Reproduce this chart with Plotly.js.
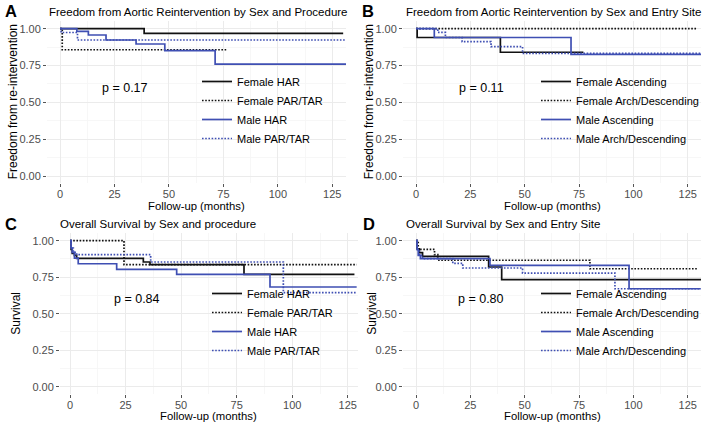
<!DOCTYPE html>
<html>
<head>
<meta charset="utf-8">
<script src="https://cdn.plot.ly/plotly-3.0.1.min.js"></script>
<style>html,body{margin:0;padding:0;background:#fff;}#chart{width:712px;height:425px;}</style>
</head>
<body>
<div id="chart"></div>
<script>
// ---------- DATA ----------
// Panel A: Freedom from Aortic Reintervention by Sex and Procedure
const A_femaleHAR_t = [0, 38.6, 130];
const A_femaleHAR_s = [1, 0.968, 0.968];
const A_femalePARTAR_t = [0, 1, 76.6];
const A_femalePARTAR_s = [1, 0.857, 0.857];
const A_maleHAR_t = [0, 7.7, 13, 21.1, 34.9, 48.1, 71.2, 131.3];
const A_maleHAR_s = [1, 0.982, 0.957, 0.923, 0.896, 0.851, 0.76, 0.76];
const A_malePARTAR_t = [0, 0.5, 8, 131];
const A_malePARTAR_s = [1, 0.974, 0.923, 0.923];

// Panel B: Freedom from Aortic Reintervention by Sex and Entry Site
const B_femaleAsc_t = [0, 0.5, 38.8, 77];
const B_femaleAsc_s = [1, 0.94, 0.84, 0.84];
const B_femaleArch_t = [0, 129];
const B_femaleArch_s = [1, 1];
const B_maleAsc_t = [0, 8.4, 71.3, 131.4];
const B_maleAsc_s = [1, 0.94, 0.826, 0.826];
const B_maleArch_t = [0, 10, 13.5, 21.2, 34.5, 49, 131];
const B_maleArch_s = [1, 0.975, 0.94, 0.912, 0.878, 0.833, 0.833];

// Panel C: Overall Survival by Sex and procedure
const C_femaleHAR_t = [0, 0.5, 1, 2, 3, 33, 36, 78.3, 128];
const C_femaleHAR_s = [1, 0.94, 0.913, 0.90, 0.879, 0.854, 0.836, 0.77, 0.77];
const C_femalePARTAR_t = [0, 24.3, 129];
const C_femalePARTAR_s = [1, 0.836, 0.836];
const C_maleHAR_t = [0, 0.5, 1, 2, 3.7, 21, 48, 90, 129];
const C_maleHAR_s = [1, 0.95, 0.92, 0.88, 0.842, 0.804, 0.77, 0.683, 0.683];
const C_malePARTAR_t = [0, 0.5, 1.5, 3, 36.3, 96, 129];
const C_malePARTAR_s = [1, 0.95, 0.92, 0.904, 0.854, 0.644, 0.644];

// Panel D: Overall Survival by Sex and Entry Site
const D_femaleAsc_t = [0, 0.5, 1.5, 3, 33.4, 39.4, 132];
const D_femaleAsc_s = [1, 0.945, 0.918, 0.893, 0.82, 0.733, 0.733];
const D_femaleArch_t = [0, 1, 8.5, 10, 80, 129.7];
const D_femaleArch_s = [1, 0.94, 0.904, 0.866, 0.808, 0.808];
const D_maleAsc_t = [0, 0.5, 1, 2, 34, 98, 131];
const D_maleAsc_s = [1, 0.94, 0.9, 0.877, 0.831, 0.671, 0.671];
const D_maleArch_t = [0, 0.5, 1.5, 3, 16.9, 21.5, 49, 91.5, 131];
const D_maleArch_s = [1, 0.94, 0.9, 0.877, 0.845, 0.813, 0.778, 0.671, 0.671];

const xTicks = [0, 25, 50, 75, 100, 125];
const yTicks = [0, 0.25, 0.5, 0.75, 1];
const yTickText = ['0.00', '0.25', '0.50', '0.75', '1.00'];

const namesProc = ['Female HAR', 'Female PAR/TAR', 'Male HAR', 'Male PAR/TAR'];
const namesSite = ['Female Ascending', 'Female Arch/Descending', 'Male Ascending', 'Male Arch/Descending'];
const panelTitles = [
  'Freedom from Aortic Reintervention by Sex and Procedure',
  'Freedom from Aortic Reintervention by Sex and Entry Site',
  'Overall Survival by Sex and procedure',
  'Overall Survival by Sex and Entry Site'
];
const panelLetters = ['A', 'B', 'C', 'D'];
const pValues = ['p = 0.17', 'p = 0.11', 'p = 0.84', 'p = 0.80'];
const yTitles = ['Freedom from re-intervention', 'Freedom from re-intervention', 'Survival', 'Survival'];
const xTitle = 'Follow-up (months)';

// ---------- STYLE / LAYOUT ----------
const W = 712, H = 425;
const BLACK = '#111111', BLUE = '#3F4FB3';
const DOT = '1.6px,1.6px';
const styles = [
  {color: BLACK, dash: 'solid'},
  {color: BLACK, dash: DOT},
  {color: BLUE, dash: 'solid'},
  {color: BLUE, dash: DOT}
];
const FONT = 'Liberation Sans, Arial, sans-serif';

const panels = [
  {sets: [[A_femaleHAR_t, A_femaleHAR_s], [A_femalePARTAR_t, A_femalePARTAR_s], [A_maleHAR_t, A_maleHAR_s], [A_malePARTAR_t, A_malePARTAR_s]], names: namesProc,
   px: [47, 346], py: [21.3, 183.4], range: [-6.0, 131.3], leg: [197, 110], title: [47, 11.7], letter: [3, 11], ytl: 13, xtl: 205.5},
  {sets: [[B_femaleAsc_t, B_femaleAsc_s], [B_femaleArch_t, B_femaleArch_s], [B_maleAsc_t, B_maleAsc_s], [B_maleArch_t, B_maleArch_s]], names: namesSite,
   px: [403, 701], py: [21.3, 183.4], range: [-6.0, 131.1], leg: [536, 110], title: [404, 11.7], letter: [360, 11], ytl: 369, xtl: 205.5},
  {sets: [[C_femaleHAR_t, C_femaleHAR_s], [C_femalePARTAR_t, C_femalePARTAR_s], [C_maleHAR_t, C_maleHAR_s], [C_malePARTAR_t, C_malePARTAR_s]], names: namesProc,
   px: [60, 358], py: [233.4, 394], range: [-4.5, 129.6], leg: [207, 322], title: [58, 223.7], letter: [3, 224], ytl: 16, xtl: 416},
  {sets: [[D_femaleAsc_t, D_femaleAsc_s], [D_femaleArch_t, D_femaleArch_s], [D_maleAsc_t, D_maleAsc_s], [D_maleArch_t, D_maleArch_s]], names: namesSite,
   px: [403, 701], py: [233.4, 394], range: [-6.0, 131.1], leg: [536, 322], title: [404, 223.7], letter: [361, 224], ytl: 372, xtl: 416}
];

const traces = [];
const layout = {
  width: W, height: H,
  margin: {l: 0, r: 0, t: 0, b: 0},
  paper_bgcolor: '#ffffff', plot_bgcolor: '#ffffff',
  font: {family: FONT, color: '#000'},
  annotations: [],
  showlegend: true
};

panels.forEach((p, i) => {
  const k = i === 0 ? '' : String(i + 1);
  const legName = 'legend' + k;
  p.sets.forEach((d, j) => {
    traces.push({
      type: 'scatter', mode: 'lines',
      x: d[0], y: d[1],
      name: p.names[j],
      xaxis: 'x' + k, yaxis: 'y' + k,
      legend: legName,
      line: {shape: 'hv', color: styles[j].color, dash: styles[j].dash, width: 1.7},
      hoverinfo: 'skip'
    });
  });
  const xd = [p.px[0] / W, p.px[1] / W];
  const yd = [1 - p.py[1] / H, 1 - p.py[0] / H];
  layout['xaxis' + k] = {
    domain: xd, range: p.range, anchor: 'y' + k,
    tickmode: 'array', tickvals: xTicks, ticks: 'outside', ticklen: 2.5, tickcolor: '#555',
    ticklabelstandoff: -2,
    tickfont: {size: 11, color: '#4D4D4D', family: FONT},
    showgrid: true, gridcolor: '#EBEBEB', gridwidth: 1,
    minor: {tickmode: 'array', tickvals: [12.5, 37.5, 62.5, 87.5, 112.5], showgrid: true, gridcolor: '#F5F5F5', gridwidth: 0.8, ticks: ''},
    zeroline: false, showline: false, fixedrange: true
  };
  layout['yaxis' + k] = {
    domain: yd, range: [-0.05, 1.05], anchor: 'x' + k,
    tickmode: 'array', tickvals: yTicks, ticktext: yTickText, ticks: 'outside', ticklen: 3, tickcolor: '#555',
    tickfont: {size: 11, color: '#4D4D4D', family: FONT},
    showgrid: true, gridcolor: '#EBEBEB', gridwidth: 1,
    minor: {tickmode: 'array', tickvals: [0.125, 0.375, 0.625, 0.875], showgrid: true, gridcolor: '#F5F5F5', gridwidth: 0.8, ticks: ''},
    zeroline: false, showline: false, fixedrange: true
  };
  layout[legName] = {
    x: p.leg[0] / W, y: 1 - p.leg[1] / H, xanchor: 'left', yanchor: 'middle',
    bgcolor: 'rgba(0,0,0,0)', borderwidth: 0,
    font: {size: 11, color: '#000', family: FONT},
    tracegroupgap: 0
  };
  // panel title
  layout.annotations.push({
    xref: 'paper', yref: 'paper', x: p.title[0] / W, y: 1 - p.title[1] / H,
    xanchor: 'left', yanchor: 'middle', showarrow: false,
    text: panelTitles[i], font: {size: 11.5, color: '#000', family: FONT}
  });
  // panel letter
  layout.annotations.push({
    xref: 'paper', yref: 'paper', x: p.letter[0] / W, y: 1 - p.letter[1] / H,
    xanchor: 'left', yanchor: 'middle', showarrow: false,
    text: '<b>' + panelLetters[i] + '</b>', font: {size: 16.5, color: '#000', family: FONT}
  });
  // p-value
  layout.annotations.push({
    xref: 'x' + k, yref: 'y' + k, x: 30, y: 0.6,
    xanchor: 'center', yanchor: 'middle', showarrow: false,
    text: pValues[i], font: {size: 12.5, color: '#000', family: FONT}
  });
  // x-axis title
  layout.annotations.push({
    xref: 'paper', yref: 'paper', x: (xd[0] + xd[1]) / 2, y: 1 - p.xtl / H,
    xanchor: 'center', yanchor: 'middle', showarrow: false, borderpad: 0,
    text: xTitle, font: {size: 11.3, color: '#000', family: FONT}
  });
  // y-axis title
  layout.annotations.push({
    xref: 'paper', yref: 'paper', x: p.ytl / W, y: (yd[0] + yd[1]) / 2,
    xanchor: 'center', yanchor: 'middle', showarrow: false, textangle: -90, borderpad: 0,
    text: yTitles[i], font: {size: 12, color: '#000', family: FONT}
  });
});

Plotly.newPlot('chart', traces, layout, {staticPlot: true, displayModeBar: false});
</script>
</body>
</html>
